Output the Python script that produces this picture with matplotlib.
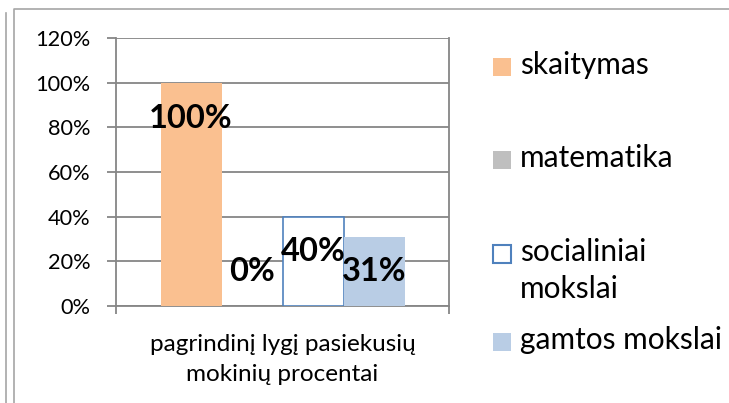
import matplotlib.pyplot as plt
from matplotlib.lines import Line2D
from matplotlib.patches import Rectangle

# data
category = "pagrindinį lygį pasiekusių\nmokinių procentai"
series = ["skaitymas", "matematika", "socialiniai\nmokslai", "gamtos mokslai"]
values = [1.00, 0.00, 0.40, 0.31]
labels = ["100%", "0%", "40%", "31%"]
yticks = [0, 0.2, 0.4, 0.6, 0.8, 1.0, 1.2]

# styles
faces = ["#FAC090", "#BFBFBF", "white", "#B9CDE5"]
edges = ["none", "none", "#4F81BD", "none"]
label_y = [0.84, 0.155, 0.245, 0.155]   # where the data labels were dragged to
grey = "#868686"

plt.rcParams['font.family'] = ['Lato', 'DejaVu Sans']

W, H = 729, 403
fig = plt.figure(figsize=(W / 100, H / 100), dpi=100)
ax = fig.add_axes([116 / W, 1 - 306 / H, (449 - 116) / W, (306 - 38) / H])

w = 61 / 333
for i, (v, fc, ec) in enumerate(zip(values, faces, edges)):
    xc = (i - 1.5) * w
    ax.bar(xc, v, width=w, color=fc, edgecolor=ec, linewidth=1.2, zorder=3)
    ax.text(xc, label_y[i], labels[i], ha="center", va="center",
            fontsize=23.5, fontweight="bold", zorder=4)

ax.set_xlim(-0.5, 0.5)
ax.set_ylim(0, 1.2)
ax.set_yticks(yticks, [f"{int(round(t * 100))}%" for t in yticks])
ax.yaxis.grid(True, color=grey, linewidth=1.3, zorder=0)
ax.tick_params(axis="y", length=6.5, width=1.3, color=grey, pad=12, labelsize=15.7)
ax.set_xticks([0], [category])
ax.set_xticks([-0.5, 0.5], minor=True)
ax.tick_params(axis="x", which="major", length=0, pad=20, labelsize=17.5)
ax.tick_params(axis="x", which="minor", length=6, width=1.3, color=grey)
for label in ax.get_xticklabels():
    label.set_linespacing(1.55)
ax.spines["top"].set_visible(False)
for s in ["left", "right", "bottom"]:
    ax.spines[s].set_color(grey)
    ax.spines[s].set_linewidth(1.3)
ax.set_axisbelow(True)

# legend drawn by hand so the marker sits on the first text line
leg_y = [67, 160, 254, 342]
for name, fc, ec, y in zip(series, faces, edges, leg_y):
    fig.add_artist(Rectangle((493 / W, 1 - (y + 9) / H), 18 / W, 18 / H,
                             facecolor=fc, edgecolor=ec, linewidth=1.5,
                             transform=fig.transFigure))
    fig.text(520 / W, 1 - (y - 16) / H, name, ha="left", va="top",
             fontsize=21.5, linespacing=1.4)

# outer chart frames
frame = "#A6A6A6"
fig.add_artist(Line2D([6 / W, 6 / W], [0, 1 - 13 / H], color=frame, lw=1.2))
fig.add_artist(Line2D([14 / W, 14 / W, 1], [0, 1 - 9 / H, 1 - 9 / H], color=frame, lw=1.2))

fig.savefig("out.png", dpi=100)
